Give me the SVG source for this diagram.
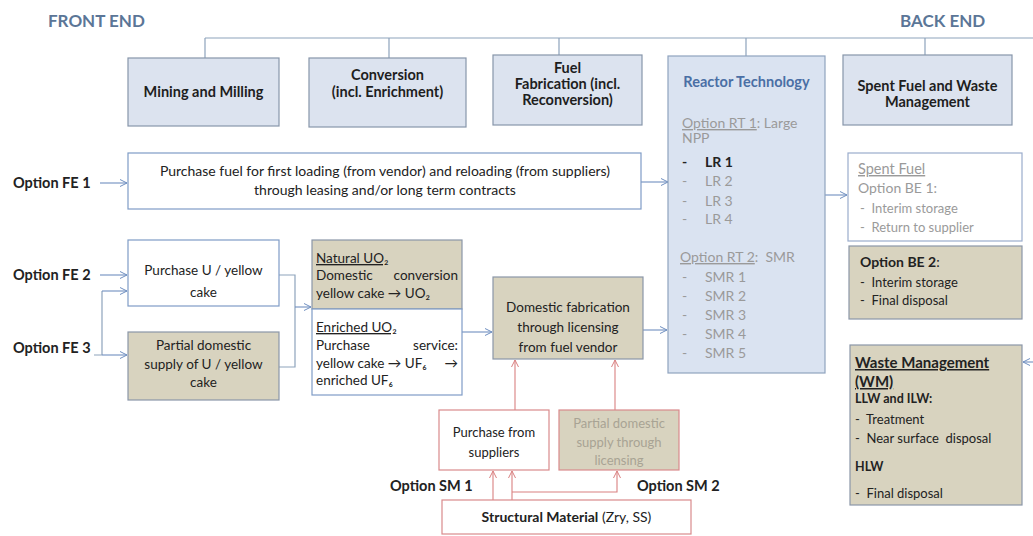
<svg xmlns="http://www.w3.org/2000/svg" width="1033" height="536" viewBox="0 0 1033 536">
<style>
text{font-family:Lato,"Liberation Sans",sans-serif;fill:#222}
.hdr{font-size:17px;font-weight:bold;fill:#5b7697}
.top{fill:#dce3ef;stroke:#8796aa;stroke-width:1.2}
.tb{font-size:14.5px;font-weight:bold;text-anchor:middle;fill:#1e1e1e}
.wb{fill:#fff;stroke:#7f9cc6;stroke-width:1.2}
.tan{fill:#d8d3bf;stroke:#8b97a8;stroke-width:1.2}
.rb{fill:#fff;stroke:#d98a8c;stroke-width:1.2}
.rtan{fill:#d8d3bf;stroke:#d98a8c;stroke-width:1.2}
.t{font-size:13.5px}
.rt{font-size:14px}
.c{text-anchor:middle}
.opt{font-size:14.5px;font-weight:bold}
.g{fill:#9a9a9a}
.u{text-decoration:underline}
.b{font-weight:bold}
.ln{fill:none;stroke:#8ea3bc;stroke-width:1.2}
.ar{fill:none;stroke:#6f8fc0;stroke-width:1.1;marker-end:url(#ab)}
.rar{fill:none;stroke:#d98080;stroke-width:1.1;marker-end:url(#ar)}
</style>
<defs>
<marker id="ab" markerWidth="8" markerHeight="8" refX="7" refY="4" orient="auto" markerUnits="userSpaceOnUse"><path d="M0,0.5 L7,4 L0,7.5" fill="none" stroke="#6f8fc0" stroke-width="1"/></marker>
<marker id="ar" markerWidth="8" markerHeight="8" refX="7" refY="4" orient="auto" markerUnits="userSpaceOnUse"><path d="M0,0.5 L7,4 L0,7.5" fill="none" stroke="#d98080" stroke-width="1"/></marker>
</defs>
<rect width="1033" height="536" fill="#fff"/>
<text class="hdr" x="48" y="27">FRONT END</text>
<text class="hdr" x="900" y="27">BACK END</text>

<g id="connectors">
<path class="ln" d="M205,38 H1033 M205,38 V58 M389,38 V58 M559,38 V55 M746,38 V56 M925,38 V55"/>
<path class="ar" d="M100,183 H127"/>
<path class="ar" d="M641,182 H668"/>
<path class="ar" d="M825,195 H847"/>
<path class="ar" d="M100,275 H127"/>
<path class="ln" d="M94,355 H102 M102,291 V355"/>
<path class="ar" d="M102,291 H127"/>
<path class="ar" d="M102,355 H127"/>
<path class="ln" d="M279,275 H295 V367 H279"/>
<path class="ar" d="M295,307 H311"/>
<path class="ar" d="M462,332 H492"/>
<path class="ar" d="M643,330 H667"/>
<path class="rar" d="M515,410 V360"/>
<path class="rar" d="M615,410 V360"/>
<path class="rar" d="M493,500 V471"/>
<path class="rar" d="M512,500 V471"/>
<path class="rar" d="M512,492 H617 V471"/>
<path class="ar" d="M1033,362 H1023"/>
</g>

<g id="mining"><rect class="top" x="128" y="58" width="151" height="68"/><text class="tb" x="203.5" y="97">Mining and Milling</text></g>
<g id="conversion"><rect class="top" x="309" y="58" width="157" height="69"/><text class="tb" x="387.5" y="80">Conversion</text><text class="tb" x="387.5" y="97">(incl. Enrichment)</text></g>
<g id="fabrication"><rect class="top" x="493" y="55" width="149" height="70"/><text class="tb" x="567.5" y="73">Fuel</text><text class="tb" x="567.5" y="89">Fabrication (incl.</text><text class="tb" x="567.5" y="105">Reconversion)</text></g>
<g id="reactor">
<rect x="668" y="56" width="157" height="317" fill="#dae3f1" stroke="#8fa3bf" stroke-width="1.2"/>
<text class="tb" x="746.5" y="87" style="fill:#4a6fa5">Reactor Technology</text>
<text class="rt g" x="682" y="128"><tspan class="u">Option RT 1</tspan>: Large</text>
<text class="rt g" x="682" y="143">NPP</text>
<text class="rt b" x="682" y="167">-</text><text class="rt b" x="705" y="167">LR 1</text>
<text class="rt g" x="682" y="186">-</text><text class="rt g" x="705" y="186">LR 2</text>
<text class="rt g" x="682" y="206">-</text><text class="rt g" x="705" y="206">LR 3</text>
<text class="rt g" x="682" y="224">-</text><text class="rt g" x="705" y="224">LR 4</text>
<text class="rt g" x="680" y="262" style="white-space:pre"><tspan class="u">Option RT 2</tspan>:  SMR</text>
<text class="rt g" x="682" y="282">-</text><text class="rt g" x="705" y="282">SMR 1</text>
<text class="rt g" x="682" y="301">-</text><text class="rt g" x="705" y="301">SMR 2</text>
<text class="rt g" x="682" y="320">-</text><text class="rt g" x="705" y="320">SMR 3</text>
<text class="rt g" x="682" y="339">-</text><text class="rt g" x="705" y="339">SMR 4</text>
<text class="rt g" x="682" y="358">-</text><text class="rt g" x="705" y="358">SMR 5</text>
</g>
<g id="spent-top"><rect class="top" x="843" y="55" width="169" height="70"/><text class="tb" x="927.5" y="91">Spent Fuel and Waste</text><text class="tb" x="927.5" y="107">Management</text></g>

<text class="opt" x="13" y="188">Option FE 1</text>
<text class="opt" x="13" y="280">Option FE 2</text>
<text class="opt" x="13" y="353">Option FE 3</text>

<g id="purchase-fuel"><rect class="wb" x="128" y="153" width="513" height="56"/><text class="rt c" x="385" y="176">Purchase fuel for first loading (from vendor) and reloading (from suppliers)</text><text class="rt c" x="385" y="195">through leasing and/or long term contracts</text></g>
<g id="purchase-u"><rect class="wb" x="128" y="240" width="151" height="66"/><text class="t c" x="203.5" y="275">Purchase U / yellow</text><text class="t c" x="203.5" y="297">cake</text></g>
<g id="partial-u"><rect class="tan" x="128" y="332" width="151" height="68"/><text class="t c" x="203.5" y="350">Partial domestic</text><text class="t c" x="203.5" y="369">supply of U / yellow</text><text class="t c" x="203.5" y="387">cake</text></g>
<g id="natural-uo2"><rect class="tan" x="312" y="240" width="150" height="69"/>
<text class="t u" x="316" y="263">Natural UO₂</text>
<text class="t" x="316" y="280">Domestic</text><text class="t" x="458" y="280" text-anchor="end">conversion</text>
<text class="t" x="316" y="298">yellow cake → UO₂</text></g>
<g id="enriched-uo2"><rect class="wb" x="312" y="309" width="150" height="86"/>
<text class="t u" x="316" y="332">Enriched UO₂</text>
<text class="t" x="316" y="350">Purchase</text><text class="t" x="458" y="350" text-anchor="end">service:</text>
<text class="t" x="316" y="368">yellow cake → UF₆</text><text class="t" x="458" y="368" text-anchor="end">→</text>
<text class="t" x="316" y="385">enriched UF₆</text></g>
<g id="domestic-fab"><rect class="tan" x="493" y="277" width="150" height="82"/><text class="t c" x="568" y="312">Domestic fabrication</text><text class="t c" x="568" y="332">through licensing</text><text class="t c" x="568" y="352">from fuel vendor</text></g>
<g id="purchase-sup"><rect class="rb" x="439" y="410" width="110" height="60"/><text class="c" x="494" y="437" style="font-size:13px">Purchase from</text><text class="c" x="494" y="457" style="font-size:13px">suppliers</text></g>
<g id="partial-sup"><rect class="rtan" x="559" y="410" width="120" height="60"/><text class="c" x="619" y="428" style="fill:#a8a394;font-size:13px">Partial domestic</text><text class="c" x="619" y="447" style="fill:#a8a394;font-size:13px">supply through</text><text class="c" x="619" y="465" style="fill:#a8a394;font-size:13px">licensing</text></g>
<g id="structural"><rect class="rb" x="442" y="500" width="249" height="34"/><text class="c" x="566.5" y="522" style="font-size:14px"><tspan class="b">Structural Material</tspan> (Zry, SS)</text></g>
<text class="opt" x="390" y="491">Option SM 1</text>
<text class="opt" x="637" y="491">Option SM 2</text>

<g id="spent-fuel"><rect x="848" y="153" width="174" height="88" fill="#fff" stroke="#9aaccc" stroke-width="1.2"/>
<text class="g u" x="858" y="174" style="font-size:14.5px">Spent Fuel</text>
<text class="g" x="858" y="193" style="font-size:14px">Option BE 1:</text>
<text class="g" x="860" y="213" style="font-size:13px;white-space:pre">-  Interim storage</text>
<text class="g" x="860" y="232" style="font-size:13px;white-space:pre">-  Return to supplier</text></g>
<g id="be2"><rect class="tan" x="849" y="246" width="173" height="73"/>
<text x="860" y="267" style="font-size:14px"><tspan class="b">Option BE 2</tspan>:</text>
<text x="860" y="287" style="font-size:13px;white-space:pre">-  Interim storage</text>
<text x="860" y="305" style="font-size:13px;white-space:pre">-  Final disposal</text></g>
<g id="waste"><rect class="tan" x="850" y="345" width="172" height="160"/>
<text class="b u" x="855" y="368" style="font-size:15px">Waste Management</text>
<text class="b u" x="855" y="387" style="font-size:15px">(WM)</text>
<text class="b" x="855" y="403" style="font-size:12.5px">LLW and ILW:</text>
<text x="855" y="424" style="font-size:13px;white-space:pre">-  Treatment</text>
<text x="855" y="443" style="font-size:13px;white-space:pre">-  Near surface  disposal</text>
<text class="b" x="855" y="471" style="font-size:12.5px">HLW</text>
<text x="855" y="498" style="font-size:13px;white-space:pre">-  Final disposal</text></g>
</svg>
